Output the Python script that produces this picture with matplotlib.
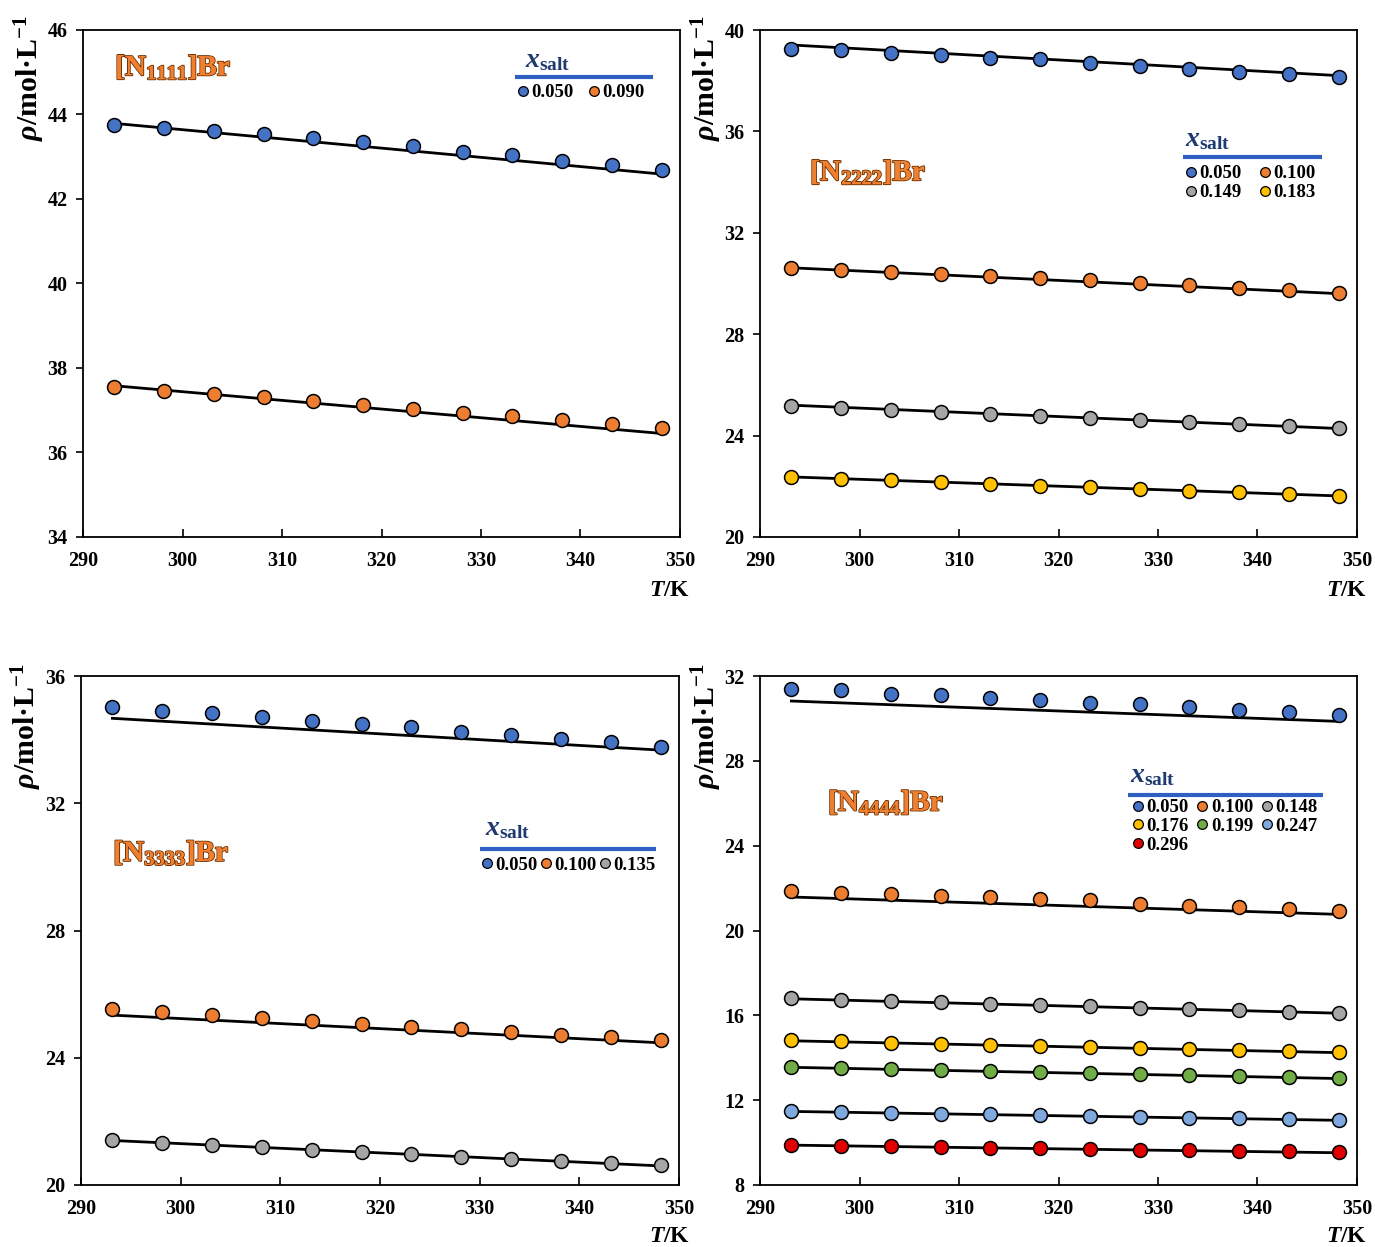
import matplotlib
matplotlib.use("Agg")
import matplotlib.pyplot as plt
import matplotlib.patheffects as pe
from matplotlib.lines import Line2D
import numpy as np

plt.rcParams['font.family'] = ['Liberation Serif', 'DejaVu Serif']
plt.rcParams['font.weight'] = 'bold'
plt.rcParams['mathtext.fontset'] = 'custom'
plt.rcParams['mathtext.rm'] = 'Liberation Serif:bold'
plt.rcParams['mathtext.it'] = 'Liberation Serif:italic:bold'
plt.rcParams['mathtext.bf'] = 'Liberation Serif:bold'

# ---------------- data ----------------
T = [293.15, 298.15, 303.15, 308.15, 313.15, 318.15, 323.15, 328.15, 333.15, 338.15, 343.15, 348.15]

# [N1111]Br
n1_x = ['0.050', '0.090']
n1_rho_050 = [43.74, 43.69, 43.62, 43.54, 43.44, 43.36, 43.25, 43.12, 43.03, 42.90, 42.80, 42.69]
n1_rho_090 = [37.55, 37.46, 37.38, 37.31, 37.21, 37.12, 37.04, 36.94, 36.86, 36.76, 36.68, 36.58]
n1_fit = [(43.79, 42.59), (37.58, 36.45)]  # fitted line value at first / last T

# [N2222]Br
n2_x = ['0.050', '0.100', '0.149', '0.183']
n2_rho_050 = [39.25, 39.21, 39.08, 39.01, 38.90, 38.84, 38.71, 38.59, 38.47, 38.34, 38.28, 38.16]
n2_rho_100 = [30.61, 30.53, 30.45, 30.37, 30.29, 30.20, 30.12, 30.02, 29.93, 29.84, 29.73, 29.63]
n2_rho_149 = [25.17, 25.09, 25.01, 24.93, 24.86, 24.78, 24.71, 24.62, 24.55, 24.47, 24.39, 24.30]
n2_rho_183 = [22.37, 22.30, 22.23, 22.16, 22.10, 22.03, 21.96, 21.90, 21.83, 21.76, 21.69, 21.62]
n2_fit = [(39.41, 38.20), (30.62, 29.60), (25.20, 24.28), (22.37, 21.62)]

# [N3333]Br
n3_x = ['0.050', '0.100', '0.135']
n3_rho_050 = [35.02, 34.91, 34.83, 34.72, 34.58, 34.49, 34.39, 34.25, 34.14, 34.01, 33.92, 33.76]
n3_rho_100 = [25.53, 25.43, 25.33, 25.25, 25.17, 25.07, 24.98, 24.89, 24.80, 24.72, 24.64, 24.55]
n3_rho_135 = [21.41, 21.33, 21.25, 21.18, 21.10, 21.03, 20.96, 20.89, 20.82, 20.75, 20.68, 20.62]
n3_fit = [(34.67, 33.67), (25.34, 24.47), (21.40, 20.60)]

# [N4444]Br
n4_x = ['0.050', '0.100', '0.148', '0.176', '0.199', '0.247', '0.296']
n4_rho_050 = [31.39, 31.33, 31.17, 31.11, 30.95, 30.88, 30.73, 30.67, 30.53, 30.39, 30.31, 30.15]
n4_rho_100 = [21.87, 21.79, 21.70, 21.62, 21.56, 21.48, 21.43, 21.23, 21.16, 21.10, 21.02, 20.93]
n4_rho_148 = [16.81, 16.74, 16.68, 16.61, 16.55, 16.49, 16.42, 16.36, 16.29, 16.23, 16.17, 16.10]
n4_rho_176 = [14.83, 14.77, 14.71, 14.66, 14.61, 14.56, 14.51, 14.46, 14.41, 14.36, 14.31, 14.26]
n4_rho_199 = [13.56, 13.51, 13.46, 13.42, 13.37, 13.32, 13.28, 13.23, 13.18, 13.14, 13.09, 13.04]
n4_rho_247 = [11.48, 11.44, 11.41, 11.37, 11.33, 11.29, 11.25, 11.21, 11.17, 11.14, 11.10, 11.06]
n4_rho_296 = [9.88, 9.85, 9.82, 9.79, 9.76, 9.73, 9.70, 9.67, 9.64, 9.61, 9.58, 9.55]
n4_fit = [(30.82, 29.86), (21.58, 20.76), (16.78, 16.10), (14.80, 14.24),
          (13.55, 13.02), (11.47, 11.05), (9.88, 9.52)]

x_ticks = [290, 300, 310, 320, 330, 340, 350]
# --------------------------------------

C_BLUE = '#4472C4'
C_OR = '#ED7D31'
C_GR = '#A5A5A5'
C_YE = '#FFC000'
C_GN = '#70AD47'
C_LB = '#7FA8DE'
C_RD = '#E00000'

fig = plt.figure(figsize=(13.75, 12.47), dpi=100)
W, H = 1375, 1247

def ax_at(l, t, r, b):
    return fig.add_axes([l / W, 1 - b / H, (r - l) / W, (b - t) / H])

def row_major(items, ncol):
    """Reorder items so that matplotlib's column-major legend shows them row by row."""
    n = len(items)
    nrows = -(-n // ncol)
    rows = [items[i * ncol:(i + 1) * ncol] for i in range(nrows)]
    out = []
    for c in range(ncol):
        for r in rows:
            if c < len(r):
                out.append(r[c])
    return out

panels = [
    dict(box=(83, 30, 680, 537), ylim=(34, 46), yt=np.arange(34, 47, 2),
         series=[n1_rho_050, n1_rho_090], fits=n1_fit, labels=n1_x,
         colors=[C_BLUE, C_OR], title='[N$_{1111}$]Br', tpos=(0.054, 0.927),
         leg=dict(title=(0.74, 0.94), line=(0.724, 0.955, 0.907), anchor=(0.728, 0.893), ncol=2, cs=0.75),
         ylab=(30, 15), xlab=(690, 590)),
    dict(box=(760, 30, 1357, 537), ylim=(20, 40), yt=np.arange(20, 41, 4),
         series=[n2_rho_050, n2_rho_100, n2_rho_149, n2_rho_183], fits=n2_fit, labels=n2_x,
         colors=[C_BLUE, C_OR, C_GR, C_YE], title='[N$_{2222}$]Br', tpos=(0.084, 0.72),
         leg=dict(title=(0.712, 0.783), line=(0.709, 0.941, 0.75), anchor=(0.712, 0.733), ncol=2, cs=0.95),
         ylab=(707, 15), xlab=(1367, 590)),
    dict(box=(81, 676, 679, 1185), ylim=(20, 36), yt=np.arange(20, 37, 4),
         series=[n3_rho_050, n3_rho_100, n3_rho_135], fits=n3_fit, labels=n3_x,
         colors=[C_BLUE, C_OR, C_GR], title='[N$_{3333}$]Br', tpos=(0.054, 0.653),
         leg=dict(title=(0.676, 0.70), line=(0.667, 0.962, 0.66), anchor=(0.669, 0.645), ncol=3, cs=0.15),
         ylab=(27, 663), xlab=(690, 1237)),
    dict(box=(760, 676, 1357, 1185), ylim=(8, 32), yt=np.arange(8, 33, 4),
         series=[n4_rho_050, n4_rho_100, n4_rho_148, n4_rho_176, n4_rho_199, n4_rho_247, n4_rho_296],
         fits=n4_fit, labels=n4_x,
         colors=[C_BLUE, C_OR, C_GR, C_YE, C_GN, C_LB, C_RD], title='[N$_{4444}$]Br', tpos=(0.114, 0.752),
         leg=dict(title=(0.62, 0.805), line=(0.616, 0.943, 0.766), anchor=(0.623, 0.758), ncol=3, cs=0.45),
         ylab=(707, 663), xlab=(1367, 1237)),
]

for p in panels:
    ax = ax_at(*p['box'])
    ax.set_xlim(290, 350)
    ax.set_ylim(*p['ylim'])
    ax.set_xticks(x_ticks)
    ax.set_yticks(p['yt'])
    ax.tick_params(axis='x', direction='in', length=6, width=1.2, pad=10, labelsize=14.5)
    ax.tick_params(axis='y', direction='out', length=5, width=1.2, pad=6, labelsize=14.5)
    for s in ax.spines.values():
        s.set_linewidth(1.3)
    for lab in ax.get_xticklabels() + ax.get_yticklabels():
        lab.set_fontweight('bold')

    handles = []
    for ser, fit, c in zip(p['series'], p['fits'], p['colors']):
        ax.plot([T[0], T[-1]], list(fit), color='black', lw=2.0, zorder=2)
        ax.plot(T, ser, 'o', ms=10, mfc=c, mec='black', mew=1.1, zorder=3)
        handles.append(Line2D([], [], ls='none', marker='o', ms=7, mfc=c, mec='black', mew=0.9))

    # panel title
    tx = ax.text(p['tpos'][0], p['tpos'][1], p['title'], transform=ax.transAxes,
                 fontsize=21, color='#F08030', fontweight='bold', ha='left', va='center')
    tx.set_path_effects([pe.withStroke(linewidth=1.4, foreground='#6B3000'), pe.Normal()])

    # legend
    lg = p['leg']
    ax.text(lg['title'][0], lg['title'][1], r'$x_{\mathrm{salt}}$', transform=ax.transAxes,
            fontsize=20, color='#1F3A6E', ha='left', va='center')
    ax.plot([lg['line'][0], lg['line'][1]], [lg['line'][2]] * 2, transform=ax.transAxes,
            color='#2F5FC0', lw=3, solid_capstyle='butt', clip_on=False)
    ax.legend(row_major(handles, lg['ncol']), row_major(list(p['labels']), lg['ncol']),
              ncol=lg['ncol'], loc='upper left',
              bbox_to_anchor=lg['anchor'], frameon=False, handlelength=0.6,
              handletextpad=0.15, columnspacing=lg['cs'], labelspacing=0.08,
              borderpad=0, borderaxespad=0, prop=dict(size=13.5, weight='bold'))

    fig.text(p['ylab'][0] / W, 1 - p['ylab'][1] / H, r'$\rho$/mol·L$^{-1}$', rotation=90,
             ha='center', va='top', fontsize=21.5, fontweight='bold')
    fig.text(p['xlab'][0] / W, 1 - p['xlab'][1] / H, r'$T$/K', ha='right', va='center',
             fontsize=17, fontweight='bold')

fig.savefig('out.png', dpi=100)
